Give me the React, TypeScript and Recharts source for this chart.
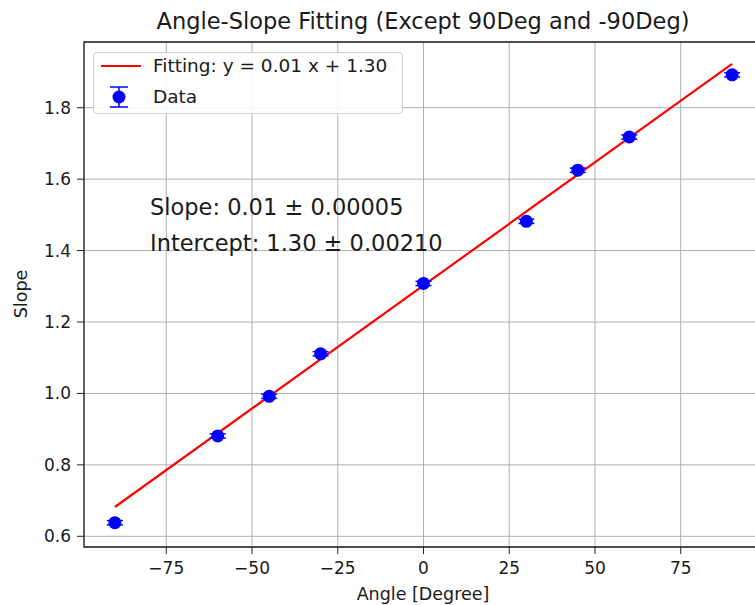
import React from "react"
import {
  CartesianGrid,
  ComposedChart,
  ErrorBar,
  Line,
  ReferenceArea,
  Scatter,
  XAxis,
  YAxis,
} from "recharts"

// measured angles and slopes
const angles = [-90, -60, -45, -30, 0, 30, 45, 60, 90]
const slopes = [0.638, 0.881, 0.992, 1.111, 1.308, 1.482, 1.625, 1.718, 1.892]
const slopeErrors = [0.006, 0.006, 0.006, 0.006, 0.006, 0.006, 0.006, 0.006, 0.006]

// fitted line end points
const fitAngles = [-90, 90]
const fitSlopes = [0.682, 1.923]

const xTicks = [-75, -50, -25, 0, 25, 50, 75]
const yTicks = [0.6, 0.8, 1.0, 1.2, 1.4, 1.6, 1.8]
const xDomain = [-99, 99]
const yDomain = [0.57, 1.984]

const FONT = "'DejaVu Sans', sans-serif"
const TEXT = "#1a1a1a"

const points = angles.map((a, i) => ({ x: a, y: slopes[i], err: slopeErrors[i] }))
const fitData = fitAngles.map((a, i) => ({ x: a, y: fitSlopes[i] }))

const Dot = (props: any) => {
  const { cx, cy } = props
  if (cx == null || cy == null) return null
  return <circle cx={cx} cy={cy} r={6.5} fill="#0000ff" />
}

export default function App() {
  return (
    <div
      style={{
        position: "absolute",
        left: 0,
        top: 0,
        width: 755,
        height: 605,
        overflow: "hidden",
        background: "#fff",
        fontFamily: FONT,
        color: TEXT,
      }}
    >
      <ComposedChart
        width={763}
        height={605}
        margin={{ top: 42, right: 0, bottom: 0, left: 0 }}
      >
        <CartesianGrid stroke="#b0b0b0" strokeWidth={1} />
        <XAxis
          dataKey="x"
          type="number"
          domain={xDomain}
          ticks={xTicks}
          allowDataOverflow
          height={58}
          axisLine={false}
          tickLine={{ stroke: "#222" }}
          tickSize={7}
          tickMargin={8}
          tick={{ fill: TEXT, fontSize: 17, fontFamily: FONT }}
          tickFormatter={(v: number) => (v < 0 ? `\u2212${Math.abs(v)}` : `${v}`)}
        />
        <YAxis
          type="number"
          domain={yDomain}
          ticks={yTicks}
          allowDataOverflow
          width={84}
          axisLine={false}
          tickLine={{ stroke: "#222" }}
          tickSize={7}
          tickMargin={6}
          tick={{ fill: TEXT, fontSize: 17, fontFamily: FONT }}
          tickFormatter={(v: number) => v.toFixed(1)}
        />
        <ReferenceArea
          x1={xDomain[0]}
          x2={xDomain[1]}
          y1={yDomain[0]}
          y2={yDomain[1]}
          fill="none"
          stroke="#222"
          strokeWidth={1.3}
        />
        <Line
          data={fitData}
          dataKey="y"
          type="linear"
          stroke="#ff0000"
          strokeWidth={2.2}
          dot={false}
          isAnimationActive={false}
        />
        <Scatter data={points} dataKey="y" shape={<Dot />} isAnimationActive={false}>
          <ErrorBar dataKey="err" direction="y" width={8} stroke="#0000ff" strokeWidth={1.5} />
        </Scatter>
      </ComposedChart>

      <div
        style={{
          position: "absolute",
          left: 0,
          top: 8,
          width: 846,
          textAlign: "center",
          fontSize: 22.5,
          whiteSpace: "nowrap",
        }}
      >
        Angle-Slope Fitting (Except 90Deg and -90Deg)
      </div>

      <div
        style={{
          position: "absolute",
          left: 0,
          top: 584,
          width: 846,
          textAlign: "center",
          fontSize: 17.5,
          whiteSpace: "nowrap",
        }}
      >
        Angle [Degree]
      </div>

      <div
        style={{
          position: "absolute",
          left: 21,
          top: 294,
          transform: "translate(-50%, -50%) rotate(-90deg)",
          fontSize: 17.5,
          whiteSpace: "nowrap",
        }}
      >
        Slope
      </div>

      <div style={{ position: "absolute", left: 150, top: 194, fontSize: 22.5, whiteSpace: "nowrap" }}>
        Slope: 0.01 ± 0.00005
      </div>
      <div style={{ position: "absolute", left: 150, top: 230, fontSize: 22.5, whiteSpace: "nowrap" }}>
        Intercept: 1.30 ± 0.00210
      </div>

      <div
        style={{
          position: "absolute",
          left: 93,
          top: 52,
          width: 308,
          height: 60,
          border: "1px solid #d0d0d0",
          borderRadius: 4,
          background: "rgba(255,255,255,0.85)",
        }}
      >
        <svg width={60} height={60} style={{ position: "absolute", left: 0, top: 0 }}>
          <line x1={7} y1={13} x2={47} y2={13} stroke="#ff0000" strokeWidth={2.2} />
          <line x1={25} y1={34} x2={25} y2={54} stroke="#0000ff" strokeWidth={1.5} />
          <line x1={16} y1={34} x2={34} y2={34} stroke="#0000ff" strokeWidth={1.5} />
          <line x1={16} y1={54} x2={34} y2={54} stroke="#0000ff" strokeWidth={1.5} />
          <circle cx={25} cy={44} r={6.5} fill="#0000ff" />
        </svg>
        <div style={{ position: "absolute", left: 59, top: 2, fontSize: 18.5, whiteSpace: "nowrap" }}>
          Fitting: y = 0.01 x + 1.30
        </div>
        <div style={{ position: "absolute", left: 59, top: 33, fontSize: 18.5, whiteSpace: "nowrap" }}>
          Data
        </div>
      </div>
    </div>
  )
}
